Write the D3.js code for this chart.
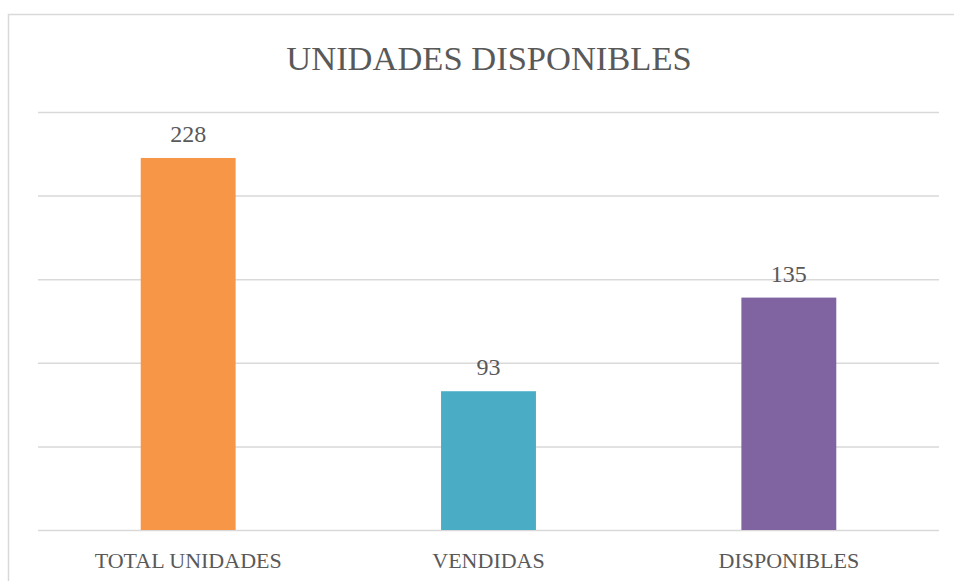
<!DOCTYPE html>
<html>
<head>
<meta charset="utf-8">
<script src="https://cdn.jsdelivr.net/npm/d3@7"></script>
<style>
  body { margin: 0; background: #fff; }
  svg text { font-family: "Liberation Serif", "DejaVu Serif", serif; fill: #595959; }
</style>
</head>
<body>
<div id="vis"></div>
<script>
// chart data
var categories = ['TOTAL UNIDADES', 'VENDIDAS', 'DISPONIBLES'];
var barValues = [222.5, 83, 139];      // bar heights as drawn in the picture
var labelTexts = ['228', '93', '135'];  // labels printed above bars
var barColors = ['#F79646', '#4BACC6', '#8064A2'];
var gridTicks = [0, 50, 100, 150, 200, 250];
var title = 'UNIDADES DISPONIBLES';

var width = 954,
    height = 581;

var margin = { left: 38, right: 15, top: 112, bottom: 51 };
var drawWidth = width - margin.left - margin.right,
    drawHeight = height - margin.top - margin.bottom;

var svg = d3.select('#vis')
            .append('svg')
            .attr('width', width)
            .attr('height', height);

// outer chart frame (runs off the right / bottom edges)
svg.append('rect')
   .attr('x', 8.5)
   .attr('y', 14.5)
   .attr('width', 1000)
   .attr('height', 1000)
   .attr('fill', 'none')
   .attr('stroke', '#D9D9D9')
   .attr('stroke-width', 1.5);

var g = svg.append('g')
           .attr('transform', `translate(${margin.left}, ${margin.top})`);

var xScale = d3.scaleBand()
               .domain(categories)
               .range([0, drawWidth])
               .padding(0);

var yScale = d3.scaleLinear()
               .domain([0, 250])
               .range([drawHeight, 0]);

// gridlines
var yAxis = d3.axisLeft(yScale)
              .tickValues(gridTicks)
              .tickSize(-drawWidth)
              .tickFormat('');
var grid = g.append('g').call(yAxis);
grid.select('.domain').remove();
grid.selectAll('line')
    .attr('stroke', '#D9D9D9')
    .attr('stroke-width', 1.5);

// bars
var barWidth = xScale.bandwidth() * 0.316;
g.selectAll('rect.bar')
 .data(barValues)
 .enter()
 .append('rect')
 .attr('class', 'bar')
 .attr('x', (d, i) => xScale(categories[i]) + (xScale.bandwidth() - barWidth) / 2)
 .attr('y', (d) => yScale(d))
 .attr('width', barWidth)
 .attr('height', (d) => drawHeight - yScale(d))
 .attr('fill', (d, i) => barColors[i]);

// value labels
g.selectAll('text.value')
 .data(barValues)
 .enter()
 .append('text')
 .attr('class', 'value')
 .attr('x', (d, i) => xScale(categories[i]) + xScale.bandwidth() / 2)
 .attr('y', (d) => yScale(d) - 16)
 .attr('text-anchor', 'middle')
 .style('font-size', '24px')
 .text((d, i) => labelTexts[i]);

// category axis
var xAxis = d3.axisBottom(xScale).tickSize(0).tickPadding(0);
var xg = g.append('g')
          .attr('transform', `translate(0, ${drawHeight})`)
          .call(xAxis);
xg.select('.domain').remove();
xg.selectAll('text')
  .attr('dy', null)
  .attr('y', 38)
  .style('font-size', '22px')
  .style('font-family', '"Liberation Serif", serif')
  .attr('fill', '#595959');

// title
svg.append('text')
   .attr('x', 489)
   .attr('y', 70)
   .attr('text-anchor', 'middle')
   .style('font-size', '34.5px')
   .text(title);
</script>
</body>
</html>
